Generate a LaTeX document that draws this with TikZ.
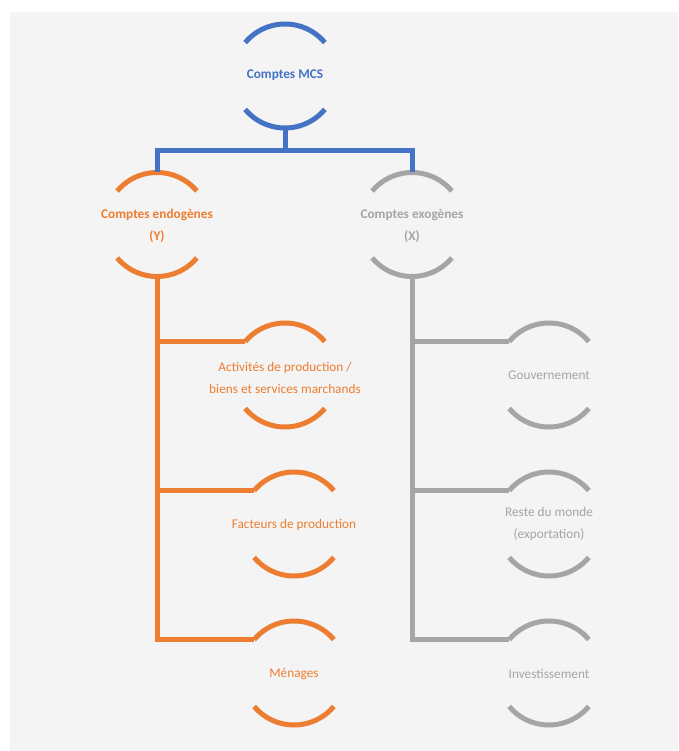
\documentclass[tikz,border=0pt]{standalone}
\usepackage{fontspec}
\setmainfont{Carlito}
\definecolor{cblue}{HTML}{4472C4}
\definecolor{corange}{HTML}{ED7D31}
\definecolor{cgray}{HTML}{A5A5A5}
\definecolor{cbg}{HTML}{F4F4F4}
\newcommand\ringarcs[2]{%
  \draw[ringline,#2] (#1.40) arc[start angle=40,end angle=140,radius=52];
  \draw[ringline,#2] (#1.220) arc[start angle=220,end angle=320,radius=52];}
\begin{document}
\begin{tikzpicture}[x=1pt,y=1pt,
  ring/.style={circle,minimum size=104pt,inner sep=0pt,outer sep=0pt,draw=none},
  ringline/.style={line width=5pt,line cap=butt},
  conn/.style={line width=5pt,line cap=butt,line join=miter},
  lbl/.style={align=center,font=\fontsize{13.3}{21.5}\selectfont,inner sep=0pt},
  head/.style={lbl,font=\fontsize{13.3}{22}\selectfont\bfseries}]
\useasboundingbox (0,0) rectangle (678,751);
\fill[cbg] (10,0) rectangle (678,739);
% ring nodes
\node[ring] (mcs) at (285,675) {};
\node[ring] (endo) at (157,526.5) {};
\node[ring] (exo) at (412,526.5) {};
\node[ring] (act) at (285,376) {};
\node[ring] (fac) at (294,227) {};
\node[ring] (men) at (294,78) {};
\node[ring] (gov) at (549,376) {};
\node[ring] (rdm) at (549,227) {};
\node[ring] (inv) at (549,78) {};
\ringarcs{mcs}{cblue}
\ringarcs{endo}{corange}
\ringarcs{exo}{cgray}
\ringarcs{act}{corange}
\ringarcs{fac}{corange}
\ringarcs{men}{corange}
\ringarcs{gov}{cgray}
\ringarcs{rdm}{cgray}
\ringarcs{inv}{cgray}
% labels
\node[head,text=cblue] (tmcs) at (285,676) {Comptes MCS};
\node[head,text=corange] (tendo) at (157,525) {Comptes endogènes\\(Y)};
\node[head,text=cgray] (texo) at (412,525) {Comptes exogènes\\(X)};
\node[lbl,text=corange] (tact) at (285,373) {Activités de production /\\biens et services marchands};
\node[lbl,text=corange] (tfac) at (294,226) {Facteurs de production};
\node[lbl,text=corange] (tmen) at (294,77) {Ménages};
\node[lbl,text=cgray] (tgov) at (549,376) {Gouvernement};
\node[lbl,text=cgray] (trdm) at (549,227) {Reste du monde\\(exportation)};
\node[lbl,text=cgray] (tinv) at (549,77) {Investissement};
% connectors
\coordinate (bus) at (285,600);
\draw[conn,cblue] (mcs.south) -- (bus);
\draw[conn,cblue] (endo.north) |- (bus) -| (exo.north);
\draw[conn,corange] (endo.south) |- (men.140);
\draw[conn,corange] (endo.south |- act.140) -- (act.140);
\draw[conn,corange] (endo.south |- fac.140) -- (fac.140);
\draw[conn,cgray] (exo.south) |- (inv.140);
\draw[conn,cgray] (exo.south |- gov.140) -- (gov.140);
\draw[conn,cgray] (exo.south |- rdm.140) -- (rdm.140);
\end{tikzpicture}
\end{document}
